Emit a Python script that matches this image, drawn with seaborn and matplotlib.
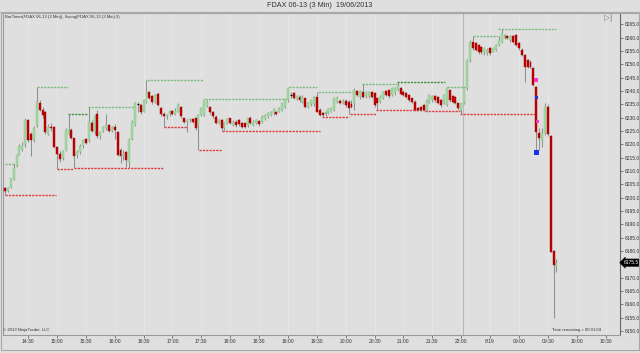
import matplotlib
matplotlib.use("Agg")
import matplotlib.pyplot as plt
import matplotlib.transforms as mtrans
from matplotlib.patches import Rectangle
import seaborn as sns
import numpy as np
import pandas as pd

# ---------------- data ----------------
opens = [6203.5, 6202.5, 6204.0, 6207.0, 6212.0, 6216.5, 6218.0, 6219.75, 6229.0, 6224.0,
         6221.5, 6227.25, 6235.5, 6233.0, 6232.25, 6224.0, 6226.5, 6226.5, 6219.0, 6216.5,
         6214.75, 6218.0, 6224.0, 6225.5, 6222.25, 6216.0, 6217.25, 6219.5, 6222.0, 6221.5,
         6228.0, 6224.5, 6231.5, 6223.0, 6225.0, 6226.0, 6227.25, 6225.0, 6226.5, 6224.75,
         6218.0, 6215.5, 6217.25, 6213.5, 6222.0, 6227.25, 6235.25, 6234.75, 6232.25, 6236.0,
         6239.75, 6238.0, 6236.0, 6239.0, 6233.5, 6231.5, 6230.5, 6231.25, 6232.5, 6231.5,
         6232.25, 6234.0, 6229.75, 6228.5, 6229.0, 6229.5, 6229.75, 6227.25, 6231.0, 6231.0,
         6234.5, 6234.0, 6232.0, 6230.4, 6228.0, 6229.1, 6226.0, 6227.9, 6229.75, 6227.25,
         6228.5, 6229.0, 6227.9, 6227.9, 6227.25, 6230.0, 6227.25, 6228.0, 6228.75, 6228.5,
         6229.4, 6230.6, 6231.0, 6231.6, 6232.25, 6232.25, 6232.9, 6234.1, 6236.6, 6238.4,
         6239.1, 6236.9, 6237.9, 6236.0, 6237.25, 6234.1, 6235.1, 6235.1, 6237.9, 6232.9,
         6231.9, 6231.4, 6231.9, 6232.25, 6232.9, 6236.0, 6236.4, 6235.6, 6236.4, 6236.0,
         6235.0, 6235.5, 6239.9, 6237.6, 6239.75, 6238.1, 6238.1, 6239.4, 6239.1, 6237.25,
         6236.0, 6237.25, 6240.1, 6240.4, 6238.5, 6239.1, 6240.4, 6241.0, 6239.75, 6239.1,
         6238.5, 6237.25, 6236.0, 6233.5, 6234.1, 6234.75, 6232.9, 6236.0, 6236.6, 6238.1,
         6237.6, 6236.6, 6235.4, 6234.75, 6240.4, 6238.1, 6237.6, 6235.4, 6232.9, 6235.4,
         6241.0, 6251.6, 6258.5, 6257.9, 6257.25, 6256.6, 6254.1, 6254.1, 6256.0, 6254.75,
         6255.4, 6257.25, 6258.5, 6260.0, 6260.4, 6259.1, 6260.4, 6261.0, 6257.9, 6255.4,
         6253.5, 6251.6, 6251.0, 6248.5, 6241.6, 6224.1, 6221.6, 6224.1, 6234.1, 6223.1,
         6180.1, 6174.1]
closes = [6202.5, 6203.5, 6207.25, 6211.0, 6216.0, 6219.5, 6219.5, 6229.0, 6221.5, 6221.5,
          6226.0, 6236.0, 6233.0, 6231.0, 6224.5, 6226.5, 6226.0, 6219.0, 6216.5, 6214.5,
          6217.5, 6225.5, 6225.5, 6222.5, 6215.5, 6217.25, 6219.5, 6221.5, 6220.5, 6228.5,
          6225.0, 6230.5, 6223.0, 6224.5, 6226.5, 6227.25, 6225.0, 6226.5, 6225.5, 6216.0,
          6215.5, 6216.5, 6214.0, 6222.0, 6228.5, 6235.5, 6235.25, 6232.0, 6236.5, 6239.75,
          6237.25, 6236.0, 6238.5, 6234.75, 6231.25, 6230.5, 6231.0, 6232.5, 6231.5, 6232.5,
          6234.75, 6230.5, 6228.5, 6229.0, 6229.5, 6228.5, 6226.0, 6231.0, 6233.5, 6236.5,
          6236.0, 6232.25, 6230.5, 6228.0, 6229.0, 6226.0, 6227.9, 6229.4, 6227.9, 6228.5,
          6227.25, 6227.6, 6226.6, 6226.6, 6229.75, 6228.0, 6228.5, 6229.1, 6227.5, 6230.4,
          6231.0, 6231.6, 6232.25, 6233.1, 6231.4, 6233.5, 6235.4, 6236.9, 6241.0, 6238.4,
          6237.25, 6238.1, 6236.6, 6237.9, 6234.1, 6235.6, 6236.6, 6237.6, 6232.25, 6231.0,
          6231.0, 6232.25, 6233.1, 6233.75, 6237.25, 6237.25, 6235.6, 6236.4, 6234.75, 6233.5,
          6234.1, 6240.4, 6238.4, 6239.9, 6237.9, 6239.75, 6239.4, 6237.9, 6234.75, 6235.4,
          6237.9, 6239.75, 6238.5, 6238.1, 6241.0, 6241.0, 6241.75, 6238.9, 6238.5, 6237.9,
          6236.6, 6236.0, 6232.9, 6232.9, 6232.9, 6232.9, 6236.6, 6238.5, 6238.1, 6236.6,
          6235.6, 6234.75, 6238.5, 6241.0, 6236.6, 6236.0, 6235.4, 6233.5, 6235.4, 6241.0,
          6251.6, 6258.5, 6256.0, 6255.4, 6254.75, 6254.75, 6256.0, 6255.4, 6254.1, 6256.0,
          6257.25, 6259.1, 6261.6, 6261.0, 6259.75, 6260.4, 6258.5, 6257.25, 6256.0, 6253.5,
          6249.1, 6249.1, 6249.1, 6242.25, 6224.75, 6222.25, 6224.1, 6234.1, 6223.75, 6179.75,
          6174.75, 6175.6]
highs = [6204.0, 6204.0, 6207.5, 6212.5, 6216.5, 6220.0, 6221.0, 6230.0, 6229.5, 6224.5,
         6227.0, 6241.5, 6236.5, 6234.0, 6232.5, 6227.5, 6228.0, 6227.0, 6219.5, 6217.5,
         6218.0, 6226.0, 6231.4, 6226.0, 6222.5, 6218.0, 6220.0, 6222.0, 6222.5, 6233.9,
         6229.0, 6231.0, 6233.0, 6225.0, 6227.0, 6231.5, 6227.5, 6227.0, 6227.5, 6225.0,
         6218.5, 6218.0, 6217.5, 6222.5, 6229.0, 6236.0, 6236.0, 6235.0, 6237.0, 6243.9,
         6240.0, 6238.5, 6239.0, 6239.5, 6234.0, 6232.0, 6231.5, 6233.0, 6233.0, 6233.5,
         6235.5, 6234.5, 6230.0, 6229.5, 6230.0, 6230.0, 6230.0, 6231.5, 6234.0, 6236.9,
         6236.5, 6234.5, 6232.5, 6231.0, 6229.5, 6229.5, 6228.5, 6230.0, 6230.0, 6229.0,
         6229.0, 6229.5, 6228.5, 6228.0, 6230.0, 6230.5, 6229.0, 6229.5, 6229.0, 6231.0,
         6231.5, 6232.0, 6232.5, 6233.5, 6232.5, 6234.0, 6235.5, 6237.0, 6241.4, 6239.6,
         6239.5, 6238.5, 6238.5, 6238.5, 6237.5, 6236.0, 6237.0, 6238.0, 6239.4, 6233.5,
         6232.0, 6232.5, 6233.5, 6234.0, 6237.5, 6238.0, 6237.0, 6237.0, 6237.0, 6236.5,
         6236.5, 6241.0, 6240.5, 6240.5, 6242.5, 6240.0, 6240.0, 6240.0, 6239.5, 6237.5,
         6238.5, 6240.0, 6240.5, 6240.5, 6241.5, 6241.5, 6243.2, 6241.5, 6240.5, 6239.5,
         6239.0, 6237.5, 6236.5, 6234.0, 6234.5, 6235.0, 6237.0, 6239.0, 6238.5, 6238.5,
         6238.0, 6237.0, 6239.0, 6241.3, 6240.5, 6238.5, 6238.0, 6235.5, 6235.5, 6241.5,
         6252.0, 6259.0, 6260.4, 6258.5, 6257.5, 6257.0, 6256.5, 6256.0, 6256.5, 6256.5,
         6257.5, 6260.4, 6263.2, 6261.5, 6261.0, 6261.0, 6261.0, 6261.5, 6258.5, 6256.0,
         6254.0, 6252.0, 6251.5, 6249.0, 6242.0, 6226.0, 6226.0, 6235.5, 6235.0, 6223.5,
         6180.5, 6176.9]
lows = [6201.0, 6202.0, 6203.5, 6206.5, 6211.5, 6216.0, 6217.5, 6219.0, 6221.0, 6215.5,
        6221.0, 6226.5, 6232.5, 6230.0, 6224.0, 6223.5, 6225.0, 6218.5, 6210.75, 6213.5,
        6214.0, 6217.5, 6223.5, 6222.0, 6211.25, 6215.0, 6216.5, 6218.5, 6220.0, 6221.0,
        6224.5, 6224.0, 6222.5, 6222.0, 6224.5, 6225.5, 6224.5, 6224.5, 6222.0, 6215.5,
        6213.0, 6214.0, 6211.5, 6211.25, 6221.5, 6227.0, 6232.0, 6231.5, 6232.0, 6235.5,
        6237.0, 6235.0, 6235.5, 6234.5, 6230.5, 6226.4, 6229.5, 6230.5, 6231.0, 6231.0,
        6232.0, 6230.0, 6228.0, 6224.75, 6228.5, 6228.0, 6225.5, 6217.9, 6230.5, 6230.5,
        6234.0, 6231.5, 6230.0, 6227.5, 6227.5, 6225.0, 6225.5, 6227.5, 6227.5, 6227.0,
        6226.5, 6227.0, 6226.0, 6226.0, 6226.5, 6227.5, 6227.0, 6227.5, 6227.0, 6228.0,
        6229.0, 6230.0, 6230.5, 6231.0, 6231.0, 6232.0, 6232.5, 6233.5, 6236.0, 6237.5,
        6237.0, 6236.5, 6236.0, 6235.5, 6233.5, 6233.5, 6234.5, 6234.5, 6232.0, 6230.5,
        6230.4, 6230.5, 6231.5, 6232.0, 6232.5, 6235.5, 6235.0, 6235.0, 6234.0, 6231.4,
        6233.5, 6233.0, 6238.0, 6237.0, 6237.5, 6237.5, 6237.5, 6237.5, 6234.0, 6232.9,
        6235.5, 6237.0, 6238.0, 6237.5, 6238.0, 6238.5, 6240.0, 6238.5, 6238.0, 6237.5,
        6236.0, 6235.5, 6232.5, 6232.5, 6232.5, 6232.5, 6232.3, 6235.5, 6236.0, 6236.0,
        6235.0, 6234.0, 6235.0, 6234.5, 6236.0, 6235.5, 6235.0, 6233.0, 6231.3, 6235.0,
        6240.5, 6251.0, 6255.5, 6255.0, 6254.0, 6254.0, 6253.5, 6253.5, 6253.5, 6254.5,
        6255.0, 6257.0, 6258.0, 6259.5, 6259.5, 6258.5, 6258.0, 6257.0, 6255.5, 6253.0,
        6243.5, 6248.5, 6248.5, 6242.0, 6217.0, 6217.9, 6219.1, 6223.5, 6223.0, 6179.5,
        6154.75, 6172.25]

# swing high (green) and swing low (red) dashed levels: start bar, end bar, price
hi_start = [0, 11, 21.8, 28.7, 49.2, 69.3, 98.4, 108.4, 123.7, 135.8, 153.1, 162, 170.8]
hi_end = [3.5, 21.8, 28.7, 44.7, 68.6, 98.0, 108.0, 120.2, 135.8, 152.4, 159.3, 170.8, 190.9]
hi_price = [6212.5, 6241.4, 6231.4, 6233.9, 6243.9, 6236.9, 6241.4, 6239.4, 6242.5, 6243.2,
            6241.3, 6260.4, 6263.2]
hi_dark = [False, False, True, False, False, False, False, False, False, True, False, False, False]

lo_start = [0, 18, 23.9, 55, 67.2, 75.2, 109.8, 119.5, 128.5, 145.5, 157.6]
lo_end = [17.7, 23.6, 54.7, 63, 75.2, 109.1, 119.2, 128.5, 145.5, 157.6, 183.6]
lo_price = [6201.0, 6210.75, 6211.25, 6226.4, 6217.9, 6225.0, 6230.4, 6231.4, 6232.9,
            6232.3, 6231.3]

time_pos = [8, 18, 28, 38, 48, 58, 68, 78, 88, 98, 108, 118, 128, 138, 148, 158,
            168, 178, 188, 198, 208]
time_labels = ["14:30", "15:00", "15:30", "16:00", "16:30", "17:00", "17:30", "18:00",
               "18:30", "19:00", "19:30", "20:00", "20:30", "21:00", "21:30", "22:00",
               "6/19", "09:00", "09:30", "10:00", "10:30"]
price_ticks = list(range(6150, 6270, 5))

marker_bar = [184, 184, 184.3, 184]
marker_price = [6244.0, 6237.5, 6228.4, 6216.8]
marker_color = ["#ff33cc", "#2233dd", "#ff33cc", "#1133ee"]
marker_size = [9, 4, 4, 12]

last_price_label = "6175.5"

# ---------------- figure ----------------
sns.set_theme(style="white")
plt.rcParams['font.family'] = ['Liberation Sans', 'DejaVu Sans']

BG = "#dfdfdf"
fig = plt.figure(figsize=(6.4, 3.53), dpi=100, facecolor=BG)
ax = fig.add_axes([3 / 640, 18 / 353, 617 / 640, 322 / 353])
ax.set_facecolor(BG)

df = pd.DataFrame({"open": opens, "close": closes, "high": highs, "low": lows})
df["bar"] = np.arange(len(df))
up = df["close"] > df["open"]
dn = df["close"] < df["open"]
doji = df["close"] == df["open"]

# grid / session break
for p in time_pos:
    ax.axvline(p, color="#e7e7e7", lw=0.7, zorder=0)
ax.axvline(158.6, color="#b8b8b8", lw=0.8, zorder=0.5)

# wicks
ax.vlines(df["bar"], df["low"], df["high"], color="#909090", lw=0.75, zorder=2)
# bodies
w = 0.68
ax.bar(df.loc[up, "bar"], df.loc[up, "close"] - df.loc[up, "open"],
       bottom=df.loc[up, "open"], width=w, color="#a4d8a4", edgecolor="#84c284",
       linewidth=0.3, zorder=3)
ax.bar(df.loc[dn, "bar"], df.loc[dn, "open"] - df.loc[dn, "close"],
       bottom=df.loc[dn, "close"], width=w, color="#c00000", edgecolor="#a00000",
       linewidth=0.3, zorder=3)
ax.hlines(df.loc[doji, "close"], df.loc[doji, "bar"] - w / 2, df.loc[doji, "bar"] + w / 2,
          color="black", lw=0.8, zorder=3)

# swing levels
for s, e, p, d in zip(hi_start, hi_end, hi_price, hi_dark):
    ax.hlines(p, s, e, colors="#3f8f3f" if d else "#7cbc7c", linestyles=(0, (1.6, 0.8)),
              lw=1.0, zorder=1.5)
for s, e, p in zip(lo_start, lo_end, lo_price):
    ax.hlines(p, s, e, colors="#e03a3a", linestyles=(0, (1.6, 0.8)), lw=1.0, zorder=1.5)

# markers
ax.scatter(marker_bar, marker_price, s=marker_size, c=marker_color, marker="s",
           linewidths=0, zorder=4)

ax.set_xlim(-0.7, 213)
ax.set_ylim(6148.5, 6269.2)

ax.yaxis.tick_right()
ax.set_yticks(price_ticks)
ax.set_yticklabels(["" if v == 6175 else f"{v:.1f}" for v in price_ticks],
                   fontsize=3.6, color="#333333")
ax.set_xticks(time_pos)
ax.set_xticklabels(time_labels, fontsize=3.6, color="#333333")
ax.tick_params(axis="y", length=2.5, width=0.5, color="#555555", pad=0.8, right=True, left=False)
ax.tick_params(axis="x", length=2.0, width=0.5, color="#555555", pad=1.2, bottom=True)
for sp in ax.spines.values():
    sp.set_color("#9a9a9a")
    sp.set_linewidth(0.8)
ax.spines["right"].set_color("#666666")

# current price box
tr = mtrans.blended_transform_factory(ax.transAxes, ax.transData)
ax.text(1.006, closes[-1], last_price_label, transform=tr, fontsize=3.6, color="white",
        va="center", ha="left",
        bbox=dict(boxstyle="larrow,pad=0.25", fc="black", ec="black", lw=0.3), zorder=6,
        clip_on=False)

# texts
fig.text(0.5, 1 - 5.5 / 353, "FDAX 06-13 (3 Min)  19/06/2013", fontsize=5.2,
         ha="center", va="center", color="#333333")
ax.text(2 / 617, 1 - 4 / 322, "BarTimer(FDAX 06-13 (3 Min)), Swing(FDAX 06-13 (3 Min),5)",
        transform=ax.transAxes, fontsize=3.1, ha="left", va="center", color="#333333")
ax.text(0.0, 3 / 322, "© 2013 NinjaTrader, LLC", transform=ax.transAxes, fontsize=3.1,
        ha="left", va="bottom", color="#333333")
ax.text(598 / 617, 3 / 322, "Time remaining = 00:01:04", transform=ax.transAxes,
        fontsize=3.1, ha="right", va="bottom", color="#333333")
ax.text(605 / 617, 1 - 5 / 322, "▷|", transform=ax.transAxes, fontsize=5.5,
        ha="center", va="center", color="#777777", family=["DejaVu Sans"])

# outer frame
fig.patches.append(Rectangle((0.5 / 640, 3 / 353), 638 / 640, 337.5 / 353,
                             transform=fig.transFigure, fill=False, ec="#a8a8a8", lw=0.8))
fig.add_artist(plt.Line2D([0, 1], [1 - 12 / 353, 1 - 12 / 353], transform=fig.transFigure,
                          color="#a8a8a8", lw=0.8))

fig.savefig("out.png", dpi=100, facecolor=BG)
